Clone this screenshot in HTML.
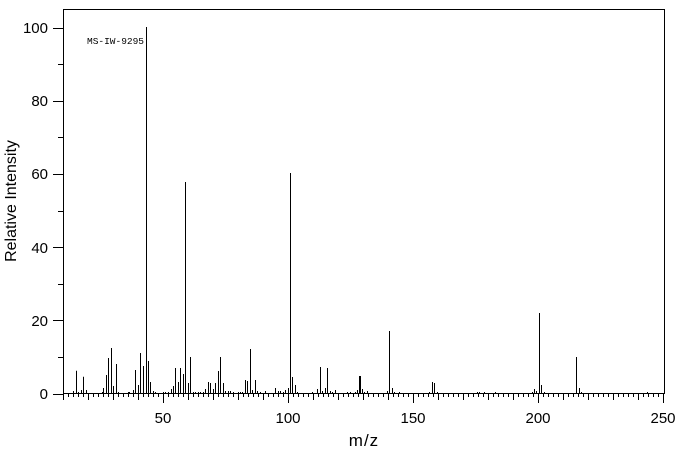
<!DOCTYPE html>
<html><head><style>
html,body{margin:0;padding:0;background:#fff;}
svg{display:block;}
text{font-family:"Liberation Sans",sans-serif;fill:#000;}
text.mono{font-family:"Liberation Mono",monospace;}
</style></head><body>
<svg width="676" height="455" viewBox="0 0 676 455" xmlns="http://www.w3.org/2000/svg">
<rect x="63.5" y="9.5" width="601" height="384" fill="none" stroke="#000" stroke-width="1"/>
<g id="yt" stroke="#000" stroke-width="1"></g>
<g id="xt" stroke="#000" stroke-width="1"></g>
<g id="pk" stroke="#000" stroke-width="1"></g>
<g font-size="15" text-anchor="end">
<text x="48" y="33">100</text><text x="48" y="106">80</text><text x="48" y="179">60</text>
<text x="48" y="253">40</text><text x="48" y="326">20</text><text x="48" y="399">0</text>
</g>
<g font-size="15" text-anchor="middle">
<text x="163" y="423">50</text><text x="288" y="423">100</text><text x="413" y="423">150</text>
<text x="538" y="423">200</text><text x="663" y="423">250</text>
<text x="364" y="446" font-size="17" letter-spacing="1">m/z</text>
<text transform="translate(16,201) rotate(-90)" font-size="16">Relative Intensity</text>
</g>
<text class="mono" x="87" y="44" font-size="9.5">MS-IW-9295</text>
</svg>
<script>
var ns="http://www.w3.org/2000/svg";
function L(g,x1,y1,x2,y2){var l=document.createElementNS(ns,"line");l.setAttribute("x1",x1);l.setAttribute("y1",y1);l.setAttribute("x2",x2);l.setAttribute("y2",y2);document.getElementById(g).appendChild(l);}
for(var v=0;v<=100;v+=10){var y=393.5-v*3.66;y=Math.round(y)+0.5;L("yt",v%20==0?53:58,y,63,y);}
for(var m=10;m<=250;m+=2){var x=Math.round(63+(m-10)*2.5)+0.5;var len=m%50==0?10:(m%10==0?7:4);L("xt",x,393,x,393+len);}
var p=[[76,22.3],[83.3,16.3],[73.3,2],[78.3,1],[81.3,3],[86.3,3],[101.7,1],[103.3,5],[106.3,18],[108.3,35],[111.3,45],[113.3,7],[116.3,29],[118.3,1],[128,1],[129.3,1],[133.3,3],[135.3,23],[138.3,8],[140.3,40],[143.3,27],[145.7,366],[148.3,32],[150.3,11],[153.3,2],[155.3,1],[163.3,1],[165.3,1],[168.3,1],[170.7,4],[173.3,7],[175.3,25],[178.3,11],[180.3,25],[183.3,19],[185.3,211],[188.3,10],[190.3,36],[193.3,1],[195.3,1],[198.3,1],[200.3,1],[203.3,1],[205.3,4],[208.3,11],[210.3,10],[213.3,4],[215.3,10],[218.3,22],[220.3,36],[223.3,10],[225.3,2],[228.3,2],[230.3,2],[233.3,1],[238.3,1],[240.3,1],[241.7,1],[245.3,13],[247.3,12],[250.3,44],[252.3,3],[255.3,13],[257.3,2],[260.3,1],[265.3,2],[275.3,5],[278.3,2],[280.3,2],[283.3,1],[285.3,3],[288.3,5],[290.3,220],[292.3,16],[295.3,8],[297.3,1],[312.3,1],[317.3,4],[320.3,26],[322.3,2],[325.3,5],[327.3,25],[330.3,2],[332.3,1],[335.3,3],[347.3,1],[350.3,1],[355.3,1],[357.3,3],[359.3,17],[360.3,17],[362.3,4],[364.3,1],[367.3,2],[387.3,2],[389.3,62],[392.3,5],[394.3,1],[399.3,1],[429.3,1],[432.3,11],[434.3,10],[437.3,1],[476.7,1],[478.7,1],[483.7,1],[494.7,1],[532.3,1],[534.3,4],[536.3,2],[539.3,80],[541.3,8],[544.3,1],[576.3,36],[579.3,5],[581.3,1],[646.7,1]];
p.forEach(function(q){var x=Math.round(q[0])+0.5;L("pk",x,393,x,393-q[1]);});
</script>
</body></html>
